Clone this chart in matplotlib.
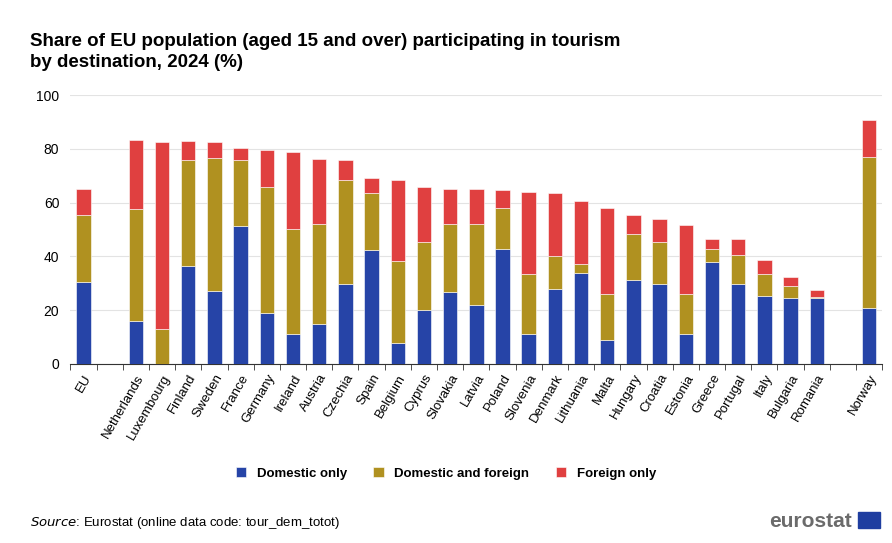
import matplotlib
matplotlib.use("Agg")
import matplotlib.pyplot as plt
import numpy as np

plt.rcParams["font.family"] = ["Liberation Sans", "DejaVu Sans"]

countries = ["EU", "Netherlands", "Luxembourg", "Finland", "Sweden", "France", "Germany",
             "Ireland", "Austria", "Czechia", "Spain", "Belgium", "Cyprus", "Slovakia",
             "Latvia", "Poland", "Slovenia", "Denmark", "Lithuania", "Malta", "Hungary",
             "Croatia", "Estonia", "Greece", "Portugal", "Italy", "Bulgaria", "Romania",
             "Norway"]
domestic = [30.4, 16.1, 0.0, 36.4, 27.0, 51.1, 18.8, 11.2, 14.7, 29.7, 42.4, 7.6, 19.9, 26.6,
            22.0, 42.6, 11.2, 27.7, 33.8, 8.9, 31.3, 29.6, 11.2, 37.8, 29.7, 25.3, 24.3, 24.3,
            20.9]
dom_cum = [55.2, 57.5, 12.8, 75.8, 76.5, 76.0, 65.7, 50.3, 51.9, 68.4, 63.5, 38.1, 45.2, 52.0,
           51.9, 57.9, 33.3, 40.0, 37.0, 25.8, 48.2, 45.3, 25.8, 42.6, 40.6, 33.3, 28.9, 24.8,
           77.0]
total = [65.1, 83.4, 82.4, 82.9, 82.6, 80.4, 79.6, 78.9, 76.3, 75.7, 69.2, 68.2, 65.6, 65.1,
         65.0, 64.6, 64.0, 63.7, 60.7, 57.9, 55.5, 53.8, 51.6, 46.6, 46.3, 38.5, 32.2, 27.3,
         90.7]

domestic = np.array(domestic)
both = np.array(dom_cum) - domestic
foreign = np.array(total) - np.array(dom_cum)

# slots: EU, gap, 27 countries, gap, Norway
pos = np.array([0] + list(range(2, 29)) + [30])

BLUE, OLIVE, RED = "#2644a7", "#b09120", "#e04040"

fig = plt.figure(figsize=(8.92, 5.43), dpi=100)
ax = fig.add_axes([0.079, 0.330, 0.910, 0.495])

w = 0.55
kw = dict(width=w, edgecolor="white", linewidth=0.4, zorder=3)
ax.bar(pos, domestic, color=BLUE, label="Domestic only", **kw)
ax.bar(pos, both, bottom=domestic, color=OLIVE, label="Domestic and foreign", **kw)
ax.bar(pos, foreign, bottom=domestic + both, color=RED, label="Foreign only", **kw)

ax.set_xlim(-0.5, 30.5)
ax.set_ylim(0, 100)
ax.set_yticks(range(0, 101, 20))
ax.tick_params(axis="y", length=0, labelsize=10, pad=8)
ax.yaxis.grid(True, color="#e3e3e3", linewidth=0.8, zorder=0)
ax.set_xticks(pos)
ax.set_xticklabels(countries, rotation=60, ha="right", rotation_mode="anchor", fontsize=9.5)
ax.set_xticks(np.arange(-0.5, 31, 1), minor=True)
ax.tick_params(axis="x", which="major", length=0, pad=6)
ax.tick_params(axis="x", which="minor", length=4, color="#333333")
for s in ["top", "right", "left"]:
    ax.spines[s].set_visible(False)
ax.spines["bottom"].set_color("#333333")

fig.text(0.034, 0.905, "Share of EU population (aged 15 and over) participating in tourism\nby destination, 2024 (%)",
         fontsize=13.5, fontweight="bold", va="center", linespacing=1.3)

fig.legend(loc="center", bbox_to_anchor=(0.5, 0.128), ncol=3, frameon=False,
           handlelength=0.8, handleheight=0.8, columnspacing=2.0,
           prop={"weight": "bold", "size": 9.5})

fig.text(0.034, 0.022, "$\\it{Source}$: Eurostat (online data code: tour_dem_totot)",
         fontsize=9.5, va="bottom")
fig.text(0.955, 0.022, "eurostat", fontsize=15, fontweight="bold", color="#6b6b6b",
         ha="right", va="bottom")
fig.patches.append(plt.Rectangle((0.962, 0.027), 0.025, 0.03, transform=fig.transFigure,
                                 color="#1f3ea0"))

fig.savefig("out.png", dpi=100, facecolor="white")
